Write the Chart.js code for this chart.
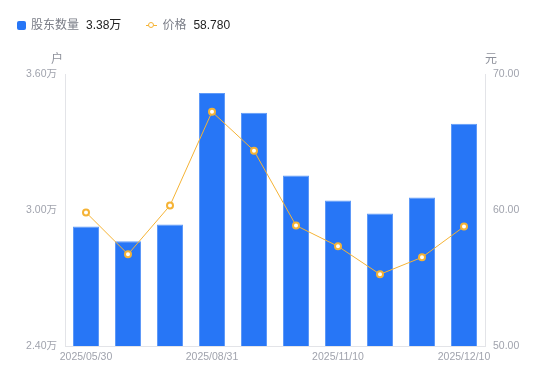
<!DOCTYPE html>
<html>
<head>
<meta charset="utf-8">
<script src="https://cdn.jsdelivr.net/npm/chart.js@4"></script>
<style>
  html, body { margin: 0; padding: 0; background: #fff; }
  #wrap { position: relative; width: 550px; height: 381px; font-family: "Liberation Sans", "Noto Sans CJK SC", sans-serif; }
  #legend { position: absolute; left: 17px; top: 17px; font-size: 12px; line-height: 17px; display: flex; align-items: center; }
  .name { color: #7a7d87; margin-right: 7px; }
  .val { color: #222; margin-right: 25px; }
  .sq { width: 9px; height: 9px; background: #2776f6; border-radius: 2px; margin-right: 5px; }
  .ln { position: relative; width: 11px; height: 9px; margin-right: 5px; }
  .ln:before { content: ""; position: absolute; left: 0; right: 0; top: 4px; height: 1px; background: #f5b335; }
  .ln:after { content: ""; position: absolute; left: 2px; top: 1px; width: 4px; height: 4px; border: 1.5px solid #f5b335; border-radius: 50%; background: #fff; }
</style>
</head>
<body>
<div id="wrap">
  <canvas id="myChart" width="550" height="381"></canvas>
  <div id="legend">
    <span class="sq"></span><span class="name">股东数量</span><span class="val">3.38万</span>
    <span class="ln"></span><span class="name">价格</span><span class="val">58.780</span>
  </div>
</div>
<script>
// data
const dates = ['2025/05/30', '2025/06/30', '2025/07/31', '2025/08/31', '2025/09/30',
               '2025/10/31', '2025/11/10', '2025/11/20', '2025/11/30', '2025/12/10'];
const holders = [2.927, 2.862, 2.936, 3.516, 3.429, 3.152, 3.042, 2.985, 3.055, 3.38]; // 万户
const prices = [59.82, 56.74, 60.33, 67.22, 64.36, 58.86, 57.33, 55.27, 56.52, 58.78]; // 元
const leftTicks = [2.4, 3.0, 3.6];
const rightTicks = [50, 60, 70];

const tickColor = '#a0a3ad';
const axisColor = '#e3e4e8';
const tickFont = { family: '"Liberation Sans", "Noto Sans CJK SC", sans-serif', size: 10.5 };

// unit labels above the two y axes
const unitLabels = {
  id: 'unitLabels',
  afterDraw(chart) {
    const c = chart.ctx;
    const a = chart.chartArea;
    c.save();
    c.font = '12px "Noto Sans CJK SC", sans-serif';
    c.fillStyle = '#8d909a';
    c.textAlign = 'center';
    c.textBaseline = 'middle';
    c.fillText('户', a.left - 8, a.top - 16);
    c.fillText('元', a.right + 6, a.top - 16);
    c.restore();
  }
};

const ctx = document.getElementById('myChart').getContext('2d');

const myChart = new Chart(ctx, {
  data: {
    labels: dates,
    datasets: [
      {
        type: 'line',
        label: '价格',
        data: prices,
        yAxisID: 'y1',
        borderColor: '#f5b335',
        borderWidth: 1,
        pointRadius: 3,
        pointBorderWidth: 2,
        pointBackgroundColor: '#fff',
        pointBorderColor: '#f5b335',
        tension: 0,
        order: 0
      },
      {
        type: 'bar',
        label: '股东数量',
        data: holders,
        yAxisID: 'y',
        backgroundColor: '#2776f6',
        borderColor: '#5f9af8',
        borderWidth: { top: 1, left: 1, right: 1, bottom: 0 },
        categoryPercentage: 1,
        barPercentage: 0.62,
        order: 1
      }
    ]
  },
  options: {
    responsive: false,
    animation: false,
    layout: { padding: { top: 74, left: 0, right: 0, bottom: 0 } },
    plugins: { legend: { display: false }, tooltip: { enabled: false } },
    scales: {
      x: {
        grid: { display: false, drawTicks: false },
        border: { color: axisColor },
        ticks: {
          color: tickColor, font: tickFont, autoSkip: false, maxRotation: 0, padding: 5,
          callback: (v, i) => (i % 3 === 0 ? dates[i] : '')
        },
        afterFit: s => { s.height = 35; }
      },
      y: {
        position: 'left',
        min: 2.4, max: 3.6,
        grid: { display: false, drawOnChartArea: false, drawTicks: true, tickLength: 5, color: axisColor },
        border: { color: axisColor },
        afterBuildTicks: s => { s.ticks = leftTicks.map(v => ({ value: v })); },
        ticks: { color: tickColor, font: tickFont, padding: 3, callback: v => v.toFixed(2) + '万' },
        afterFit: s => { s.width = 65; }
      },
      y1: {
        position: 'right',
        min: 50, max: 70,
        grid: { display: false, drawOnChartArea: false, drawTicks: true, tickLength: 5, color: axisColor },
        border: { color: axisColor },
        afterBuildTicks: s => { s.ticks = rightTicks.map(v => ({ value: v })); },
        ticks: { color: tickColor, font: tickFont, padding: 3, callback: v => v.toFixed(2) },
        afterFit: s => { s.width = 65; }
      }
    }
  },
  plugins: [unitLabels]
});
</script>
</body>
</html>
